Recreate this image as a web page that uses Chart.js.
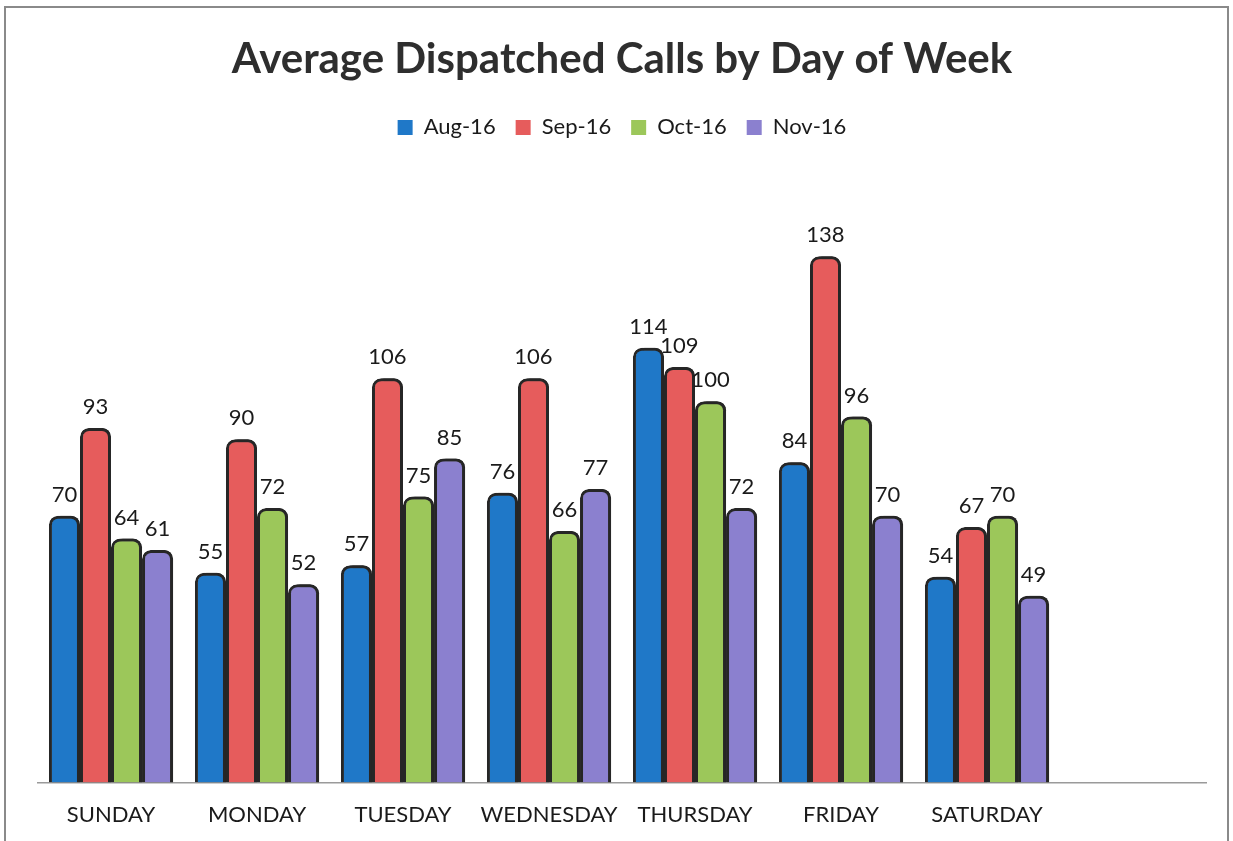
<!DOCTYPE html>
<html lang="en">
<head>
  <meta charset="UTF-8">
  <title>Average Dispatched Calls by Day of Week</title>
  <style>
    body {
      margin: 0;
      background: #fff;
      overflow: hidden;
    }
    .frame {
      position: absolute;
      left: 4px;
      top: 6px;
      width: 1221px;
      height: 860px;
      border: 2px solid #8a8a8a;
    }
    .chart-box {
      position: absolute;
      left: 0;
      top: 0;
      width: 1233px;
      height: 841px;
    }
  </style>
</head>
<body>
  <div class="frame"></div>
  <div class="chart-box">
    <canvas id="calls-chart" width="1233" height="841"></canvas>
  </div>

  <script src="https://cdn.jsdelivr.net/npm/chart.js"></script>
  <script>
    // chart data
    const days = ['SUNDAY', 'MONDAY', 'TUESDAY', 'WEDNESDAY', 'THURSDAY', 'FRIDAY', 'SATURDAY', ''];
    const aug16 = [70, 55, 57, 76, 114, 84, 54];
    const sep16 = [93, 90, 106, 106, 109, 138, 67];
    const oct16 = [64, 72, 75, 66, 100, 96, 70];
    const nov16 = [61, 52, 85, 77, 72, 70, 49];

    const FONT = 'Lato, "Open Sans", sans-serif';

    function barSet(label, data, color) {
      return {
        label: label,
        data: data,
        backgroundColor: color,
        borderColor: '#262626',
        borderWidth: 3,
        borderSkipped: 'bottom',
        borderRadius: { topLeft: 9, topRight: 9, bottomLeft: 0, bottomRight: 0 }
      };
    }

    // dark edge on the right of each bar, like the 3d look of the original
    const barShadow = {
      id: 'barShadow',
      beforeDatasetDraw(chart) {
        const ctx = chart.ctx;
        ctx.save();
        ctx.shadowColor = '#262626';
        ctx.shadowOffsetX = 3;
        ctx.shadowOffsetY = 0;
        ctx.shadowBlur = 0;
      },
      afterDatasetDraw(chart) {
        chart.ctx.restore();
      }
    };

    // extra room under the legend
    const legendGap = {
      id: 'legendGap',
      beforeInit(chart) {
        const fit = chart.legend.fit;
        chart.legend.fit = function () {
          fit.call(this);
          this.height += 24;
        };
      }
    };

    // value labels above each bar
    const valueLabels = {
      id: 'valueLabels',
      afterDatasetsDraw(chart) {
        const ctx = chart.ctx;
        ctx.save();
        ctx.font = '22px ' + FONT;
        ctx.fillStyle = '#1a1a1a';
        ctx.textAlign = 'center';
        ctx.textBaseline = 'bottom';
        chart.data.datasets.forEach((ds, i) => {
          const meta = chart.getDatasetMeta(i);
          meta.data.forEach((bar, j) => {
            if (ds.data[j] == null) return;
            ctx.fillText(ds.data[j], bar.x, bar.y - 10);
          });
        });
        ctx.restore();
      }
    };

    const ctx = document.getElementById('calls-chart').getContext('2d');
    const chart = new Chart(ctx, {
      type: 'bar',
      data: {
        labels: days,
        datasets: [
          barSet('Aug-16', aug16, '#1f78c8'),
          barSet('Sep-16', sep16, '#e65c5c'),
          barSet('Oct-16', oct16, '#9cc75a'),
          barSet('Nov-16', nov16, '#8b80cf')
        ]
      },
      options: {
        responsive: false,
        animation: false,
        events: [],
        categoryPercentage: 0.85,
        barPercentage: 1.0,
        layout: {
          padding: { left: 38, right: 27, top: 0, bottom: -6 }
        },
        plugins: {
          title: {
            display: true,
            text: 'Average Dispatched Calls by Day of Week',
            color: '#2e2e2e',
            font: { family: FONT, size: 42, weight: 'bold' },
            padding: { top: 34, bottom: 12 }
          },
          legend: {
            display: true,
            labels: {
              color: '#1a1a1a',
              font: { family: FONT, size: 22 },
              boxWidth: 15,
              boxHeight: 15,
              padding: 20,
              generateLabels(chart) {
                return Chart.defaults.plugins.legend.labels.generateLabels(chart).map(item => {
                  item.strokeStyle = item.fillStyle;
                  item.lineWidth = 0;
                  return item;
                });
              }
            }
          },
          tooltip: { enabled: false }
        },
        scales: {
          x: {
            grid: { display: false, drawTicks: false },
            border: { display: true, color: '#9a9a9a', width: 1.5 },
            ticks: {
              color: '#1a1a1a',
              font: { family: FONT, size: 22 },
              padding: 19,
              maxRotation: 0
            }
          },
          y: {
            display: false,
            min: 0,
            max: 160
          }
        }
      },
      plugins: [legendGap, barShadow, valueLabels]
    });
  </script>
</body>
</html>
